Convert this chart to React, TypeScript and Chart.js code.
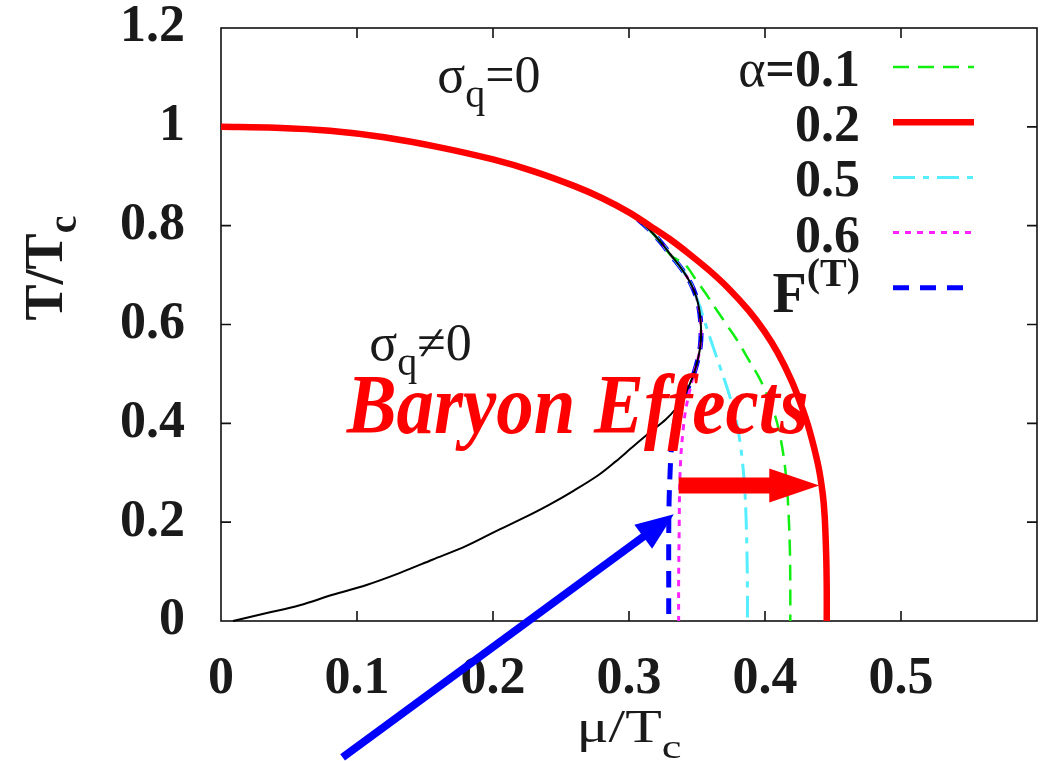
import React, { useEffect, useRef } from "react";
import { Chart, registerables } from "chart.js";

Chart.register(...registerables);

// ---------- data ----------
const xTickLabels = ["0", "0.1", "0.2", "0.3", "0.4", "0.5"];
const yTickLabels = ["0", "0.2", "0.4", "0.6", "0.8", "1", "1.2"];
const legendLabels = ["α=0.1", "0.2", "0.5", "0.6", "F(T)"];

// α = 0.1 (green dashed)
const muA01 = [0, 0.04, 0.08, 0.12, 0.16, 0.2, 0.23, 0.26, 0.28, 0.3, 0.3072, 0.3145, 0.3233, 0.3314, 0.3409, 0.349, 0.3563, 0.3636, 0.3721, 0.3805, 0.3878, 0.3952, 0.4018, 0.4076, 0.4109, 0.4135, 0.4157, 0.4172, 0.4183, 0.4186, 0.4186];
const tA01 = [1, 0.998, 0.992, 0.979, 0.959, 0.934, 0.91, 0.88, 0.856, 0.827, 0.8114, 0.7931, 0.7667, 0.7383, 0.7222, 0.6917, 0.6633, 0.6329, 0.5984, 0.5639, 0.5294, 0.4949, 0.4564, 0.4138, 0.3773, 0.3367, 0.286, 0.2252, 0.144, 0.0629, 0];

// α = 0.2 (red solid)
const muA02 = [0, 0.04, 0.08, 0.12, 0.16, 0.2, 0.23, 0.26, 0.28, 0.3, 0.3152, 0.3299, 0.3446, 0.3592, 0.3732, 0.3878, 0.3996, 0.4095, 0.4194, 0.427, 0.4326, 0.4392, 0.4425, 0.4439, 0.445, 0.4454, 0.4454];
const tA02 = [1, 0.998, 0.992, 0.979, 0.959, 0.934, 0.91, 0.88, 0.856, 0.827, 0.8, 0.773, 0.742, 0.709, 0.673, 0.629, 0.586, 0.542, 0.487, 0.434, 0.387, 0.314, 0.256, 0.211, 0.132, 0.063, 0];

// α = 0.5 (cyan dash-dot)
const muA05 = [0, 0.04, 0.08, 0.12, 0.16, 0.2, 0.23, 0.26, 0.28, 0.3, 0.3072, 0.3145, 0.3233, 0.3314, 0.3391, 0.3453, 0.3493, 0.3523, 0.3548, 0.3578, 0.3607, 0.364, 0.3673, 0.3706, 0.3739, 0.3768, 0.3794, 0.3816, 0.3834, 0.3849, 0.386, 0.3867, 0.3871, 0.3871];
const tA05 = [1, 0.998, 0.992, 0.979, 0.959, 0.934, 0.91, 0.88, 0.856, 0.827, 0.8114, 0.7931, 0.7667, 0.7383, 0.711, 0.6836, 0.6572, 0.6349, 0.6126, 0.5882, 0.5639, 0.5375, 0.5112, 0.4848, 0.4564, 0.428, 0.3976, 0.3631, 0.3225, 0.2759, 0.215, 0.144, 0.0629, 0];

// α = 0.6 (magenta dotted)
const muA06 = [0, 0.04, 0.08, 0.12, 0.16, 0.2, 0.23, 0.26, 0.28, 0.3, 0.3072, 0.3145, 0.3233, 0.3314, 0.3391, 0.3453, 0.3493, 0.3515, 0.3526, 0.353, 0.3525, 0.3508, 0.3482, 0.3457, 0.3435, 0.3416, 0.3402, 0.3391, 0.338, 0.3372, 0.3369, 0.3365, 0.3365];
const tA06 = [1, 0.998, 0.992, 0.979, 0.959, 0.934, 0.91, 0.88, 0.856, 0.827, 0.8114, 0.7931, 0.7667, 0.7383, 0.711, 0.6836, 0.6572, 0.6329, 0.6085, 0.5842, 0.5578, 0.5314, 0.5051, 0.4787, 0.4523, 0.426, 0.3976, 0.3671, 0.3266, 0.2657, 0.1846, 0.0832, 0];

// F^(T) (blue thick dashed)
const muFT = [0, 0.04, 0.08, 0.12, 0.16, 0.2, 0.23, 0.26, 0.28, 0.3, 0.3072, 0.3145, 0.3233, 0.3314, 0.3391, 0.3453, 0.3493, 0.3515, 0.3526, 0.353, 0.3525, 0.3508, 0.3482, 0.3446, 0.3398, 0.3361, 0.3336, 0.3321, 0.331, 0.3303, 0.3295, 0.3292, 0.3292, 0.3292];
const tFT = [1, 0.998, 0.992, 0.979, 0.959, 0.934, 0.91, 0.88, 0.856, 0.827, 0.8114, 0.7931, 0.7667, 0.7383, 0.711, 0.6836, 0.6572, 0.6329, 0.6085, 0.5842, 0.5578, 0.5314, 0.5051, 0.4787, 0.4523, 0.428, 0.4016, 0.3732, 0.3428, 0.3063, 0.2454, 0.1643, 0.0832, 0];

// σ_q = 0 / σ_q ≠ 0 boundary (black)
const muBoundary = [0.0088, 0.0337, 0.0579, 0.0821, 0.107, 0.1312, 0.1554, 0.1804, 0.2045, 0.2229, 0.2412, 0.2595, 0.2779, 0.2903, 0.3021, 0.3152, 0.327, 0.3339, 0.3398, 0.3446, 0.3482, 0.3508, 0.3525, 0.353, 0.3526, 0.3515, 0.3493, 0.3453, 0.3391, 0.3314, 0.3233, 0.3145, 0.3072, 0.3, 0.28, 0.26, 0.23, 0.2, 0.16, 0.12, 0.08, 0.04, 0];
const tBoundary = [0, 0.016, 0.032, 0.053, 0.073, 0.097, 0.124, 0.152, 0.185, 0.209, 0.235, 0.264, 0.296, 0.323, 0.3509, 0.3813, 0.4077, 0.428, 0.4523, 0.4787, 0.5051, 0.5314, 0.5578, 0.5842, 0.6085, 0.6329, 0.6572, 0.6836, 0.711, 0.7383, 0.7667, 0.7931, 0.8114, 0.827, 0.856, 0.88, 0.91, 0.934, 0.959, 0.979, 0.992, 0.998, 1];

// annotation anchors (data coordinates)
const redArrowFrom = [0.3365, 0.274];
const redArrowTo = [0.4399, 0.274];
const blueArrowFrom = [0.0894, -0.276];
const blueArrowTo = [0.333, 0.216];
const sigmaZeroAt = [0.159, 1.071];
const sigmaNonZeroAt = [0.109, 0.529];
const baryonAt = [0.0924, 0.381];

// ---------- helpers ----------
const SERIF = '"Liberation Serif", "Times New Roman", serif';

type Part = { t: string; size: number; weight?: string; style?: string; dy?: number };

const fontOf = (p: Part) => `${p.style || "normal"} ${p.weight || "normal"} ${p.size}px ${SERIF}`;

function partsWidth(ctx: CanvasRenderingContext2D, parts: Part[]) {
  let w = 0;
  for (const p of parts) {
    ctx.font = fontOf(p);
    w += ctx.measureText(p.t).width;
  }
  return w;
}

function drawParts(
  ctx: CanvasRenderingContext2D,
  parts: Part[],
  x: number,
  y: number,
  align: "left" | "right" | "center",
  color: string,
  targetWidth?: number
) {
  const raw = partsWidth(ctx, parts);
  const sx = targetWidth ? targetWidth / raw : 1;
  const w = raw * sx;
  const start = align === "left" ? x : align === "right" ? x - w : x - w / 2;
  ctx.save();
  ctx.fillStyle = color;
  ctx.textAlign = "left";
  ctx.textBaseline = "alphabetic";
  ctx.translate(start, y);
  ctx.scale(sx, 1);
  let px = 0;
  for (const p of parts) {
    ctx.font = fontOf(p);
    ctx.fillText(p.t, px, p.dy || 0);
    px += ctx.measureText(p.t).width;
  }
  ctx.restore();
}

const pts = (mu: number[], t: number[]) => mu.map((m, i) => ({ x: m, y: t[i] }));

const frame = {
  id: "frame",
  beforeDatasetsDraw(chart: any) {
    const { ctx, chartArea: a, scales } = chart;
    const xs = scales.x;
    const ys = scales.y;
    ctx.save();
    ctx.strokeStyle = "#111";
    ctx.lineWidth = 1.6;
    ctx.strokeRect(a.left, a.top, a.right - a.left, a.bottom - a.top);
    const tl = 10;
    ctx.beginPath();
    xTickLabels.forEach((lab) => {
      const v = Number(lab);
      if (v <= 0) return;
      const px = xs.getPixelForValue(v);
      ctx.moveTo(px, a.bottom);
      ctx.lineTo(px, a.bottom - tl);
      ctx.moveTo(px, a.top);
      ctx.lineTo(px, a.top + tl);
    });
    yTickLabels.forEach((lab) => {
      const v = Number(lab);
      if (v <= 0 || v >= 1.2) return;
      const py = ys.getPixelForValue(v);
      ctx.moveTo(a.left, py);
      ctx.lineTo(a.left + tl, py);
      ctx.moveTo(a.right, py);
      ctx.lineTo(a.right - tl, py);
    });
    ctx.stroke();
    ctx.restore();
  },
};

const overlay = {
  id: "overlay",
  afterDraw(chart: any) {
    const { ctx, chartArea: a, scales } = chart;
    const xs = scales.x;
    const ys = scales.y;
    const P = (d: number[]) => [xs.getPixelForValue(d[0]), ys.getPixelForValue(d[1])];

    // axis titles
    drawParts(
      ctx,
      [
        { t: "μ/T", size: 46 },
        { t: "c", size: 34, dy: 16 },
      ],
      (a.left + a.right) / 2,
      a.bottom + 121,
      "center",
      "#1a1a1a",
      105
    );
    ctx.save();
    ctx.translate(62, 268);
    ctx.rotate(-Math.PI / 2);
    drawParts(
      ctx,
      [
        { t: "T/T", size: 54, weight: "bold" },
        { t: "c", size: 40, weight: "bold", dy: 14 },
      ],
      0,
      0,
      "center",
      "#1a1a1a"
    );
    ctx.restore();

    // region labels
    const s0 = P(sigmaZeroAt);
    drawParts(
      ctx,
      [
        { t: "σ", size: 52 },
        { t: "q", size: 40, dy: 15 },
        { t: "=0", size: 52 },
      ],
      s0[0],
      s0[1],
      "left",
      "#1a1a1a"
    );
    const s1 = P(sigmaNonZeroAt);
    drawParts(
      ctx,
      [
        { t: "σ", size: 52 },
        { t: "q", size: 40, dy: 15 },
        { t: "≠0", size: 52 },
      ],
      s1[0],
      s1[1],
      "left",
      "#1a1a1a"
    );
    const b = P(baryonAt);
    drawParts(ctx, [{ t: "Baryon Effects", size: 84, weight: "bold", style: "italic" }], b[0], b[1], "left", "#ff0000", 462);

    // red arrow
    const r0 = P(redArrowFrom);
    const r1 = P(redArrowTo);
    const headLen = 50;
    ctx.save();
    ctx.fillStyle = "#ff0000";
    ctx.beginPath();
    ctx.moveTo(r0[0], r0[1] - 8);
    ctx.lineTo(r1[0] - headLen, r1[1] - 8);
    ctx.lineTo(r1[0] - headLen, r1[1] - 17);
    ctx.lineTo(r1[0], r1[1]);
    ctx.lineTo(r1[0] - headLen, r1[1] + 17);
    ctx.lineTo(r1[0] - headLen, r1[1] + 8);
    ctx.lineTo(r0[0], r0[1] + 8);
    ctx.closePath();
    ctx.fill();
    ctx.restore();

    // blue arrow
    const b0 = P(blueArrowFrom);
    const b1 = P(blueArrowTo);
    const ang = Math.atan2(b1[1] - b0[1], b1[0] - b0[0]);
    const hl = 38;
    const hw = 15;
    const bx = b1[0] - hl * Math.cos(ang);
    const by = b1[1] - hl * Math.sin(ang);
    ctx.save();
    ctx.strokeStyle = "#0000ff";
    ctx.fillStyle = "#0000ff";
    ctx.lineWidth = 8;
    ctx.beginPath();
    ctx.moveTo(b0[0], b0[1]);
    ctx.lineTo(bx + 4 * Math.cos(ang), by + 4 * Math.sin(ang));
    ctx.stroke();
    ctx.beginPath();
    ctx.moveTo(b1[0], b1[1]);
    ctx.lineTo(bx - hw * Math.sin(ang), by + hw * Math.cos(ang));
    ctx.lineTo(bx + hw * Math.sin(ang), by - hw * Math.cos(ang));
    ctx.closePath();
    ctx.fill();
    ctx.restore();

    // legend
    const ds = chart.data.datasets;
    legendLabels.forEach((lab, i) => {
      const d = ds.find((q: any) => q.label === lab);
      const rowY = a.top + 39 + i * 55.2;
      const textRight = a.right - 177;
      if (lab === "F(T)") {
        drawParts(
          ctx,
          [
            { t: "F", size: 56, weight: "bold" },
            { t: "(T)", size: 40, weight: "bold", dy: -26 },
          ],
          textRight,
          rowY + 24,
          "right",
          "#1a1a1a"
        );
      } else if (lab.startsWith("α")) {
        drawParts(
          ctx,
          [
            { t: "α", size: 52 },
            { t: lab.slice(1), size: 52, weight: "bold" },
          ],
          textRight,
          rowY + 19,
          "right",
          "#1a1a1a"
        );
      } else {
        drawParts(ctx, [{ t: lab, size: 52, weight: "bold" }], textRight, rowY + 19, "right", "#1a1a1a");
      }
      if (d) {
        ctx.save();
        ctx.strokeStyle = d.borderColor;
        ctx.lineWidth = d.borderWidth;
        ctx.setLineDash(d.borderDash || []);
        ctx.lineCap = "butt";
        ctx.beginPath();
        ctx.moveTo(a.right - 144, rowY);
        ctx.lineTo(a.right - 63, rowY);
        ctx.stroke();
        ctx.restore();
      }
    });
  },
};

export default function App() {
  const ref = useRef<HTMLCanvasElement | null>(null);

  useEffect(() => {
    if (!ref.current) return;
    const common = { showLine: true, pointRadius: 0, fill: false, tension: 0.35, clip: false as any };
    const chart = new Chart(ref.current, {
      type: "scatter",
      data: {
        datasets: [
          { ...common, label: "0.2", data: pts(muA02, tA02), borderColor: "#ff0000", borderWidth: 6.5, order: 0 },
          { ...common, label: "boundary", data: pts(muBoundary, tBoundary), borderColor: "#000000", borderWidth: 2, order: 1 },
          { ...common, label: "α=0.1", data: pts(muA01, tA01), borderColor: "#11ee11", borderWidth: 2.5, borderDash: [16, 9], order: 2 },
          { ...common, label: "0.5", data: pts(muA05, tA05), borderColor: "#55eeff", borderWidth: 3, borderDash: [22, 8, 6, 8], order: 3 },
          { ...common, label: "0.6", data: pts(muA06, tA06), borderColor: "#ff22ff", borderWidth: 3, borderDash: [6, 6], order: 4 },
          { ...common, label: "F(T)", data: pts(muFT, tFT), borderColor: "#0000ff", borderWidth: 5, borderDash: [16, 11], order: 5 },
        ] as any,
      },
      options: {
        animation: false,
        responsive: true,
        maintainAspectRatio: false,
        events: [],
        layout: { padding: { top: 28, right: 6, left: 0, bottom: 0 } },
        plugins: { legend: { display: false }, tooltip: { enabled: false } },
        scales: {
          x: {
            type: "linear",
            min: 0,
            max: 0.6,
            afterFit: (s: any) => {
              s.height = 140;
              s.paddingLeft = 0;
              s.paddingRight = 0;
              s.paddingTop = 0;
              s.paddingBottom = 0;
            },
            grid: { display: false, drawTicks: false },
            border: { display: false },
            ticks: {
              stepSize: 0.1,
              autoSkip: false,
              maxRotation: 0,
              padding: 33,
              color: "#1a1a1a",
              font: { family: SERIF, size: 52, weight: "bold", lineHeight: 1 },
              callback: (v: any) => {
                const i = Math.round(Number(v) * 10);
                return i < xTickLabels.length ? xTickLabels[i] : "";
              },
            },
          },
          y: {
            type: "linear",
            min: 0,
            max: 1.2,
            afterFit: (s: any) => {
              s.width = 221;
              s.paddingLeft = 0;
              s.paddingRight = 0;
              s.paddingTop = 0;
              s.paddingBottom = 0;
            },
            grid: { display: false, drawTicks: false },
            border: { display: false },
            ticks: {
              stepSize: 0.2,
              autoSkip: false,
              padding: 36,
              color: "#1a1a1a",
              font: { family: SERIF, size: 52, weight: "bold", lineHeight: 1 },
              callback: (v: any) => {
                const i = Math.round(Number(v) * 5);
                return yTickLabels[i] ?? "";
              },
            },
          },
        },
      } as any,
      plugins: [frame, overlay],
    });
    return () => chart.destroy();
  }, []);

  return (
    <div style={{ position: "absolute", left: 0, top: 0, width: 1043, height: 761, background: "#fff" }}>
      <canvas ref={ref} />
    </div>
  );
}
